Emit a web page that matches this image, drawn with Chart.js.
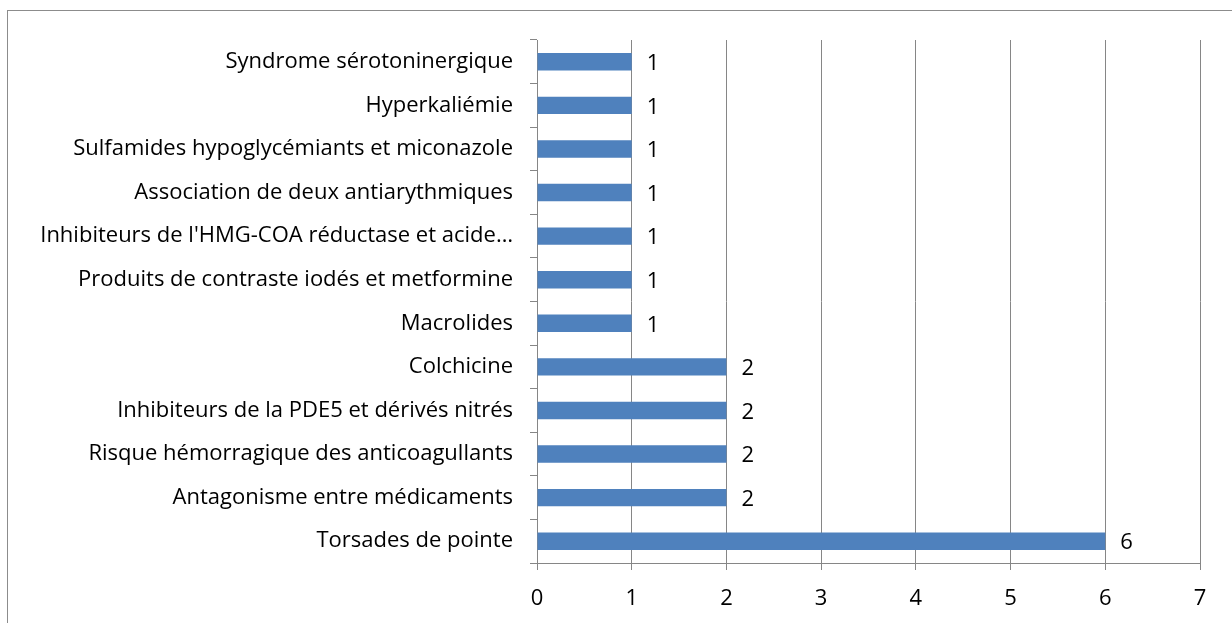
<!DOCTYPE html>
<html>
<head>
<meta charset="utf-8">
<script src="https://cdn.jsdelivr.net/npm/chart.js@4.4.0/dist/chart.umd.min.js"></script>
<style>
  body { margin: 0; background: #fff; overflow: hidden; }
  #frame { position: absolute; left: 7px; top: 10px; width: 1400px; height: 800px; border: 1px solid #8c8c8c; }
  #myChart { position: absolute; left: 0; top: 0; }
</style>
</head>
<body>
<div id="frame"></div>
<canvas id="myChart" width="1232" height="623"></canvas>
<script>
// categories, bottom to top as in the picture
var categories = [
  "Torsades de pointe",
  "Antagonisme entre médicaments",
  "Risque hémorragique des anticoagullants",
  "Inhibiteurs de la PDE5 et dérivés nitrés",
  "Colchicine",
  "Macrolides",
  "Produits de contraste iodés et metformine",
  "Inhibiteurs de l'HMG-COA réductase et acide…",
  "Association de deux antiarythmiques",
  "Sulfamides hypoglycémiants et miconazole",
  "Hyperkaliémie",
  "Syndrome sérotoninergique"
];
var counts = [6, 2, 2, 2, 2, 1, 1, 1, 1, 1, 1, 1];
var xTicks = [0, 1, 2, 3, 4, 5, 6, 7];

var fontFamily = "'Open Sans', sans-serif";
var fontSize = 22;
var gridColor = "#868686";

// value labels next to each bar
var valueLabels = {
  id: "valueLabels",
  afterDatasetsDraw: function(chart) {
    var c = chart.ctx;
    var meta = chart.getDatasetMeta(0);
    c.save();
    c.font = fontSize + "px " + fontFamily;
    c.fillStyle = "#000";
    c.textAlign = "left";
    c.textBaseline = "middle";
    meta.data.forEach(function(bar, i) {
      c.fillText(String(counts[i]), bar.x + 15, bar.y + 2);
    });
    c.restore();
  }
};

var ctx = document.getElementById("myChart").getContext("2d");
var mychart = new Chart(ctx, {
  type: "bar",
  data: {
    labels: categories,
    datasets: [{
      data: counts,
      backgroundColor: "#4f81bd",
      borderWidth: 0,
      barPercentage: 0.4,
      categoryPercentage: 1
    }]
  },
  options: {
    indexAxis: "y",
    responsive: false,
    animation: false,
    layout: { padding: { top: 40, right: 32, left: 0, bottom: 0 } },
    plugins: {
      legend: { display: false },
      tooltip: { enabled: false }
    },
    scales: {
      x: {
        min: 0,
        max: 7,
        afterFit: function(scale) { scale.height = 60; },
        afterBuildTicks: function(scale) {
          scale.ticks = xTicks.map(function(v) { return { value: v }; });
        },
        grid: { color: gridColor, lineWidth: 1, drawTicks: true, tickLength: 7, tickColor: gridColor },
        border: { color: gridColor, width: 1 },
        ticks: { color: "#000", font: { family: fontFamily, size: fontSize }, padding: 16, maxRotation: 0 }
      },
      y: {
        reverse: true,
        afterFit: function(scale) { scale.width = 537; },
        grid: { drawOnChartArea: false, drawTicks: true, tickLength: 7, offset: true, color: gridColor },
        border: { color: gridColor, width: 1 },
        ticks: { color: "#000", font: { family: fontFamily, size: fontSize }, padding: 17, autoSkip: false }
      }
    }
  },
  plugins: [valueLabels]
});
</script>
</body>
</html>
